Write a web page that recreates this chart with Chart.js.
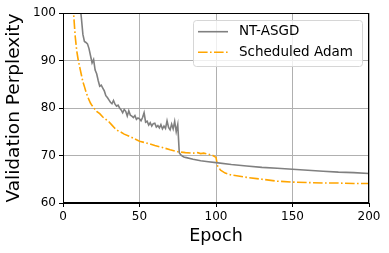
<!DOCTYPE html>
<html><head><meta charset="utf-8">
<script src="https://cdn.jsdelivr.net/npm/chart.js@4/dist/chart.umd.min.js"></script>
<style>html,body{margin:0;padding:0;background:#fff}#wrap{width:389px;height:253px}</style>
</head><body><div id="wrap"><canvas id="c" width="389" height="253"></canvas></div>
<script>
// ---- data ----
const seriesNames = ["NT-ASGD", "Scheduled Adam"];
const xTicks = [0, 50, 100, 150, 200];
const yTicks = [60, 70, 80, 90, 100];

const ntEpochs = [10,11,12,13,14,15,16,17,18,19,20,21,22,23,24,25,26,27,28,29,30,31,32,33,34,35,36,37,38,39,40,41,42,43,44,45,46,47,48,49,50,51,52,53,54,55,56,57,58,59,60,61,62,63,64,65,66,67,68,69,70,71,72,73,74,75,76,77,78,79,80,85,90,95,100,110,120,130,140,150,160,170,180,190,200];
const ntValues = [108,102,99,95.5,94,93.8,93.5,92.5,91,89.5,90.2,88,87.2,85.8,84.6,84.8,84.2,83.6,82.6,82.2,81.7,81.2,80.9,81.6,80.8,80.4,80.6,80.0,79.6,79.0,79.7,79.3,78.3,79.4,78.5,78.3,78.0,78.4,77.6,77.9,77.7,77.3,78.0,79.0,77.0,77.2,76.4,76.9,76.2,76.7,76.8,76.0,76.3,75.8,76.5,75.6,76.2,75.7,77.3,75.9,75.4,76.6,75.6,77.2,75.0,76.5,70.6,70.1,69.9,69.7,69.6,69.2,68.9,68.7,68.5,68.1,67.8,67.5,67.3,67.1,66.9,66.7,66.5,66.4,66.2];

const adamEpochs = [6,7,8,9,10,11,12,13,14,15,16,17,18,19,20,22,24,26,28,30,32,34,36,38,40,45,50,55,60,65,70,75,80,85,88,90,92,95,98,100,101,103,106,110,120,130,140,150,160,170,180,190,200];
const adamValues = [102,99.5,95,92,90,88.5,87,85.5,84.5,83.4,82.5,81.7,81.0,80.5,80.1,79.3,78.8,78.1,77.6,77.1,76.4,75.7,75.2,74.9,74.5,73.8,73.0,72.6,72.1,71.7,71.2,70.8,70.6,70.5,70.6,70.4,70.5,70.3,70.0,69.6,67.8,66.9,66.3,65.9,65.4,65.0,64.6,64.4,64.3,64.2,64.2,64.1,64.1];

const colors = ["#808080", "#ffa500"];
const FONT = "DejaVu Sans";

const toPts = (xs, ys) => xs.map((x, i) => ({x, y: ys[i]}));

const frameAndLegend = {
  id: 'frameAndLegend',
  afterDraw(chart) {
    const ctx = chart.ctx, a = chart.chartArea;
    ctx.save();
    // full frame
    ctx.strokeStyle = '#000'; ctx.lineWidth = 1;
    ctx.strokeRect(Math.round(a.left) + 0.5, Math.round(a.top) + 0.5, Math.round(a.right - a.left) - 1, Math.round(a.bottom - a.top) - 1);
    // legend box
    const bx = 193.5, by = 20.5, bw = 169, bh = 46, r = 3;
    ctx.beginPath();
    ctx.moveTo(bx + r, by);
    ctx.arcTo(bx + bw, by, bx + bw, by + bh, r);
    ctx.arcTo(bx + bw, by + bh, bx, by + bh, r);
    ctx.arcTo(bx, by + bh, bx, by, r);
    ctx.arcTo(bx, by, bx + bw, by, r);
    ctx.closePath();
    ctx.fillStyle = 'rgba(255,255,255,0.8)';
    ctx.fill();
    ctx.strokeStyle = '#d6d6d6';
    ctx.stroke();
    const rows = [31.7, 52.3];
    chart.data.datasets.forEach((ds, i) => {
      ctx.beginPath();
      ctx.strokeStyle = ds.borderColor;
      ctx.lineWidth = ds.borderWidth;
      ctx.setLineDash(ds.borderDash || []);
      ctx.moveTo(198, rows[i]);
      ctx.lineTo(228, rows[i]);
      ctx.stroke();
      ctx.setLineDash([]);
      ctx.fillStyle = '#000';
      ctx.font = '13.5px "' + FONT + '"';
      ctx.textBaseline = 'middle';
      ctx.textAlign = 'left';
      ctx.fillText(ds.label, 239, rows[i]);
    });
    ctx.restore();
  }
};

new Chart(document.getElementById('c'), {
  type: 'line',
  data: {
    datasets: [
      {label: seriesNames[0], data: toPts(ntEpochs, ntValues), borderColor: colors[0], borderWidth: 1.6, pointRadius: 0, tension: 0, fill: false},
      {label: seriesNames[1], data: toPts(adamEpochs, adamValues), borderColor: colors[1], borderWidth: 1.6, borderDash: [9.6, 2.4, 1.6, 2.4], pointRadius: 0, tension: 0, fill: false}
    ]
  },
  options: {
    responsive: false,
    animation: false,
    layout: {padding: {top: 13, right: 20, left: 0, bottom: 0}},
    plugins: {legend: {display: false}, tooltip: {enabled: false}},
    scales: {
      x: {
        type: 'linear', min: 0, max: 200,
        afterBuildTicks: s => { s.ticks = xTicks.map(v => ({value: v})); },
        afterFit: s => { s.height = 50; },
        grid: {color: '#b0b0b0', tickColor: '#000', tickLength: 4, lineWidth: 1},
        border: {display: true, color: '#000', width: 1},
        ticks: {color: '#000', font: {family: FONT, size: 12}, padding: 3, maxRotation: 0},
        title: {display: true, text: 'Epoch', color: '#000', font: {family: FONT, size: 17.5}, padding: {top: 0, bottom: 6}}
      },
      y: {
        min: 60, max: 100,
        afterBuildTicks: s => { s.ticks = yTicks.map(v => ({value: v})); },
        afterFit: s => { s.width = 63; },
        grid: {color: '#b0b0b0', tickColor: '#000', tickLength: 4, lineWidth: 1},
        border: {display: true, color: '#000', width: 1},
        ticks: {color: '#000', font: {family: FONT, size: 12}, padding: 3},
        title: {display: true, text: 'Validation Perplexity', color: '#000', font: {family: FONT, size: 18.5}, padding: {top: 3.5, bottom: 0}}
      }
    }
  },
  plugins: [frameAndLegend]
});
</script>
</body></html>
